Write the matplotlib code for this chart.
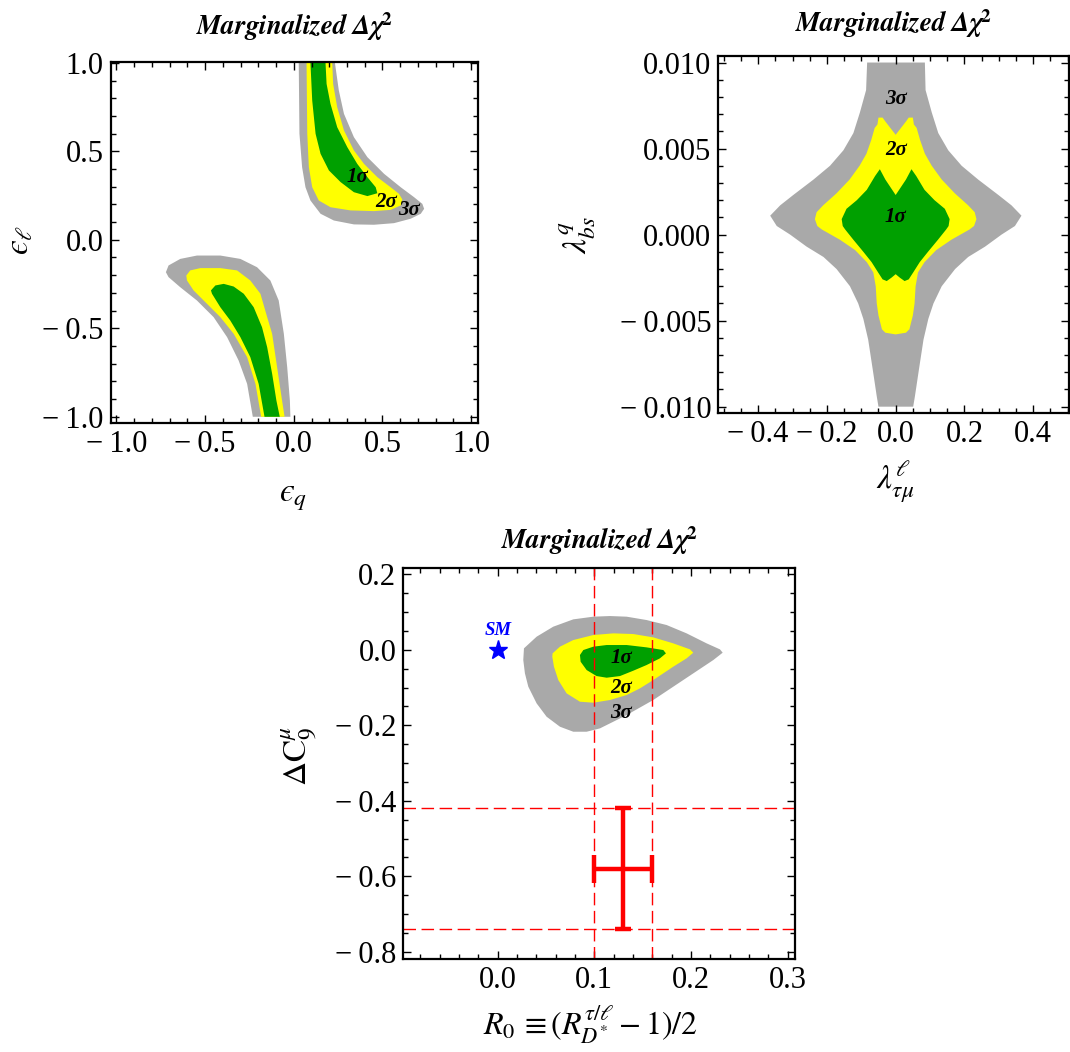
import matplotlib
matplotlib.use("Agg")
import matplotlib.pyplot as plt
from matplotlib.ticker import MultipleLocator, FuncFormatter
from matplotlib.mathtext import MathTextParser

plt.rcParams['font.family'] = ['Liberation Serif', 'DejaVu Serif']
plt.rcParams['mathtext.fontset'] = 'stix'

# ---------------- data: panel 1 (eps_q, eps_l) ----------------
p1_up_3s = [(0.028, 1.0), (0.032, 0.60), (0.047, 0.41), (0.066, 0.297), (0.094, 0.222), (0.151, 0.147),
            (0.226, 0.109), (0.339, 0.087), (0.452, 0.085), (0.565, 0.094), (0.659, 0.119), (0.716, 0.147),
            (0.735, 0.175), (0.725, 0.203), (0.678, 0.241), (0.603, 0.297), (0.509, 0.373), (0.415, 0.467),
            (0.339, 0.580), (0.283, 0.712), (0.254, 0.844), (0.232, 1.0)]
p1_up_2s = [(0.072, 1.0), (0.076, 0.60), (0.085, 0.41), (0.104, 0.297), (0.141, 0.222), (0.207, 0.184),
            (0.320, 0.166), (0.452, 0.162), (0.546, 0.169), (0.603, 0.194), (0.612, 0.228), (0.593, 0.260),
            (0.546, 0.297), (0.471, 0.354), (0.396, 0.429), (0.339, 0.505), (0.283, 0.618), (0.245, 0.749),
            (0.222, 0.881), (0.217, 1.0)]
p1_up_1s = [(0.094, 1.0), (0.104, 0.787), (0.123, 0.599), (0.151, 0.486), (0.198, 0.392), (0.264, 0.326),
            (0.339, 0.269), (0.415, 0.247), (0.471, 0.263), (0.462, 0.297), (0.415, 0.354), (0.358, 0.429),
            (0.302, 0.523), (0.245, 0.636), (0.207, 0.768), (0.185, 0.881), (0.179, 1.0)]
p1_lo_3s = [(-0.231, -1.0), (-0.263, -0.814), (-0.311, -0.682), (-0.376, -0.550), (-0.452, -0.437),
            (-0.546, -0.343), (-0.640, -0.268), (-0.706, -0.211), (-0.721, -0.183), (-0.706, -0.145),
            (-0.640, -0.108), (-0.546, -0.089), (-0.414, -0.089), (-0.301, -0.108), (-0.207, -0.155),
            (-0.132, -0.230), (-0.085, -0.343), (-0.056, -0.531), (-0.037, -0.720), (-0.022, -0.908),
            (-0.019, -1.0)]
p1_lo_2s = [(-0.184, -1.0), (-0.216, -0.814), (-0.263, -0.663), (-0.339, -0.531), (-0.414, -0.437),
            (-0.489, -0.362), (-0.565, -0.286), (-0.602, -0.230), (-0.606, -0.202), (-0.584, -0.173),
            (-0.527, -0.160), (-0.414, -0.160), (-0.320, -0.173), (-0.245, -0.230), (-0.188, -0.305),
            (-0.150, -0.437), (-0.122, -0.531), (-0.094, -0.720), (-0.066, -0.908), (-0.052, -1.0)]
p1_lo_1s = [(-0.165, -1.0), (-0.198, -0.814), (-0.245, -0.663), (-0.301, -0.550), (-0.358, -0.456),
            (-0.414, -0.381), (-0.461, -0.305), (-0.467, -0.286), (-0.442, -0.258), (-0.395, -0.249),
            (-0.339, -0.264), (-0.282, -0.305), (-0.226, -0.381), (-0.179, -0.494), (-0.150, -0.607),
            (-0.122, -0.757), (-0.098, -0.908), (-0.079, -1.0)]
p1_labels = [("1σ", 0.358, 0.354), ("2σ", 0.518, 0.212), ("3σ", 0.650, 0.166)]

# ---------------- data: panel 2 (lambda_taumu, lambda_bs) ----------------
p2_3s = [(-0.083, 0.0100), (-0.086, 0.0084), (-0.104, 0.0071), (-0.123, 0.0059), (-0.152, 0.0049),
         (-0.191, 0.0040), (-0.239, 0.0032), (-0.298, 0.0023), (-0.336, 0.0017), (-0.365, 0.0011),
         (-0.346, 0.0005), (-0.307, 0.0000), (-0.259, -0.0007), (-0.210, -0.0013), (-0.172, -0.0020),
         (-0.133, -0.0030), (-0.109, -0.0040), (-0.094, -0.0049), (-0.080, -0.0061), (-0.067, -0.0078),
         (-0.055, -0.0094), (-0.050, -0.0100),
         (0.051, -0.0100), (0.056, -0.0094), (0.068, -0.0078), (0.081, -0.0061), (0.095, -0.0049),
         (0.110, -0.0040), (0.134, -0.0030), (0.173, -0.0020), (0.211, -0.0013), (0.260, -0.0007),
         (0.308, 0.0000), (0.347, 0.0005), (0.366, 0.0011), (0.337, 0.0017), (0.299, 0.0023),
         (0.240, 0.0032), (0.192, 0.0040), (0.153, 0.0049), (0.124, 0.0059), (0.105, 0.0071),
         (0.087, 0.0084), (0.085, 0.0100)]
p2_2s = [(-0.050, 0.0068), (-0.038, 0.0068), (-0.031, 0.0066), (0.0, 0.0058), (0.031, 0.0066),
         (0.038, 0.0068), (0.050, 0.0068), (0.053, 0.0064), (0.061, 0.0062), (0.071, 0.0055),
         (0.085, 0.0047), (0.105, 0.0040), (0.134, 0.0032), (0.172, 0.0024), (0.211, 0.0017),
         (0.230, 0.0013), (0.235, 0.0009), (0.228, 0.0005), (0.215, 0.0003), (0.162, -0.0003),
         (0.118, -0.0009), (0.084, -0.0016), (0.065, -0.0022), (0.058, -0.0030), (0.055, -0.0040),
         (0.050, -0.0047), (0.045, -0.0051), (0.040, -0.0055), (0.030, -0.0057), (0.0, -0.0058),
         (-0.030, -0.0057), (-0.040, -0.0055), (-0.045, -0.0051), (-0.050, -0.0047), (-0.055, -0.0040),
         (-0.058, -0.0030), (-0.065, -0.0022), (-0.084, -0.0016), (-0.118, -0.0009), (-0.162, -0.0003),
         (-0.215, 0.0003), (-0.228, 0.0005), (-0.235, 0.0009), (-0.230, 0.0013), (-0.211, 0.0017),
         (-0.172, 0.0024), (-0.134, 0.0032), (-0.105, 0.0040), (-0.085, 0.0047), (-0.071, 0.0055),
         (-0.061, 0.0062), (-0.053, 0.0064)]
p2_1s = [(-0.046, 0.0038), (-0.030, 0.0032), (0.0, 0.0023), (0.030, 0.0032), (0.046, 0.0038),
         (0.060, 0.0034), (0.084, 0.0026), (0.113, 0.0020), (0.143, 0.0015), (0.157, 0.0009),
         (0.154, 0.0005), (0.147, 0.0003), (0.123, -0.0003), (0.094, -0.0010), (0.070, -0.0016),
         (0.051, -0.0022), (0.038, -0.0026), (0.026, -0.0027), (0.012, -0.0025), (0.0, -0.0023),
         (-0.012, -0.0025), (-0.026, -0.0027), (-0.038, -0.0026), (-0.051, -0.0022), (-0.070, -0.0016),
         (-0.094, -0.0010), (-0.123, -0.0003), (-0.147, 0.0003), (-0.154, 0.0005), (-0.157, 0.0009),
         (-0.143, 0.0015), (-0.113, 0.0020), (-0.084, 0.0026), (-0.060, 0.0034)]
p2_labels = [("3σ", 0.0, 0.0079), ("2σ", 0.0, 0.0049), ("1σ", 0.0, 0.0010)]

# ---------------- data: panel 3 (R0, dC9) ----------------
p3_3s = [(0.0272, 0.0039), (0.0403, 0.0348), (0.0575, 0.0613), (0.0782, 0.0807), (0.0989, 0.0878),
         (0.1161, 0.0895), (0.1334, 0.0878), (0.1540, 0.0789), (0.1747, 0.0657), (0.1954, 0.0436),
         (0.2161, 0.0171), (0.2299, 0.0012), (0.2327, -0.0076), (0.2230, -0.0271), (0.2023, -0.0624),
         (0.1816, -0.0977), (0.1609, -0.1330), (0.1334, -0.1728), (0.1196, -0.1905), (0.1058, -0.2081),
         (0.0920, -0.2170), (0.0782, -0.2170), (0.0644, -0.2037), (0.0506, -0.1772), (0.0403, -0.1419),
         (0.0317, -0.0977), (0.0282, -0.0624), (0.0265, -0.0271)]
p3_2s = [(0.0568, -0.0094), (0.0644, 0.0083), (0.0782, 0.0259), (0.0989, 0.0392), (0.1196, 0.0436),
         (0.1403, 0.0418), (0.1609, 0.0330), (0.1816, 0.0171), (0.1989, 0.0012), (0.2023, -0.0076),
         (0.1954, -0.0226), (0.1816, -0.0447), (0.1609, -0.0801), (0.1472, -0.1021), (0.1334, -0.1198),
         (0.1161, -0.1330), (0.0989, -0.1401), (0.0851, -0.1375), (0.0713, -0.1154), (0.0627, -0.0801),
         (0.0582, -0.0447), (0.0565, -0.0182)]
p3_1s = [(0.0851, -0.0138), (0.0886, -0.0006), (0.0989, 0.0083), (0.1127, 0.0127), (0.1334, 0.0127),
         (0.1540, 0.0065), (0.1713, -0.0006), (0.1740, -0.0094), (0.1678, -0.0226), (0.1540, -0.0403),
         (0.1403, -0.0553), (0.1265, -0.0695), (0.1127, -0.0739), (0.1023, -0.0695), (0.0920, -0.0536),
         (0.0858, -0.0315)]
p3_labels = [("1σ", 0.128, -0.023), ("2σ", 0.128, -0.102), ("3σ", 0.128, -0.168)]
sm_point = (0.0, 0.0)
meas_x, meas_y = 0.13, -0.58
meas_xerr, meas_yerr = 0.03, 0.16
vlines = [0.10, 0.16]
hlines = [-0.42, -0.74]

C3, C2, C1 = '#A9A9A9', '#FFFF00', '#00A000'

TITLE = r'$\mathbfit{Marginalized}\ \mathbfit{\Delta\chi}^{\mathbf{2}}$'
try:
    MathTextParser('path').parse(TITLE)
    title_kw = {}
except Exception:
    TITLE = 'Marginalized Δχ²'
    title_kw = dict(fontweight='bold', fontstyle='italic')

fig = plt.figure(figsize=(10.70, 10.52), dpi=100)
ax1 = fig.add_axes([0.1035, 0.5976, 0.3436, 0.3437])
ax2 = fig.add_axes([0.6713, 0.6077, 0.3280, 0.3394])
ax3 = fig.add_axes([0.3769, 0.0881, 0.3661, 0.3717])


def fill(ax, pts, c):
    xs = [p[0] for p in pts]
    ys = [p[1] for p in pts]
    ax.fill(xs, ys, color=c, lw=0, zorder=1)


def fmt(dec):
    def f(v, pos):
        s = f"{abs(v):.{dec}f}"
        if v < 0 and float(s) != 0:
            s = '\u2212\u2009' + s
        return s
    return FuncFormatter(f)


def style(ax, xmaj, xmin, ymaj, ymin, xdec, ydec, title_y):
    ax.xaxis.set_major_locator(MultipleLocator(xmaj))
    ax.xaxis.set_minor_locator(MultipleLocator(xmin))
    ax.yaxis.set_major_locator(MultipleLocator(ymaj))
    ax.yaxis.set_minor_locator(MultipleLocator(ymin))
    ax.xaxis.set_major_formatter(fmt(xdec))
    ax.yaxis.set_major_formatter(fmt(ydec))
    ax.tick_params(which='both', direction='in', top=True, right=True, labelsize=22, width=1.0)
    ax.tick_params(which='major', length=6, pad=5)
    ax.tick_params(which='minor', length=3.5)
    for s in ax.spines.values():
        s.set_linewidth(1.6)
    ax.text(0.5, title_y, TITLE, transform=ax.transAxes, fontsize=19.5, ha='center', va='center', **title_kw)


SIG_KW = dict(fontsize=15, fontstyle='italic', fontweight='bold', ha='center', va='center', zorder=3)

# panel 1
for pts, c in [(p1_up_3s, C3), (p1_up_2s, C2), (p1_up_1s, C1), (p1_lo_3s, C3), (p1_lo_2s, C2), (p1_lo_1s, C1)]:
    fill(ax1, pts, c)
for t, x, y in p1_labels:
    ax1.text(x, y, t, **SIG_KW)
ax1.set_xlim(-1.032, 1.041)
ax1.set_ylim(-1.037, 1.006)
style(ax1, 0.5, 0.1, 0.5, 0.1, 1, 1, 1.096)
ax1.set_xlabel('$\u03f5_q$', fontsize=24, va='center')
ax1.set_ylabel('$\u03f5_\\ell$', fontsize=24, va='center')
ax1.xaxis.set_label_coords(0.496, -0.207)
ax1.yaxis.set_label_coords(-0.247, 0.507)

# panel 2
for pts, c in [(p2_3s, C3), (p2_2s, C2), (p2_1s, C1)]:
    fill(ax2, pts, c)
for t, x, y in p2_labels:
    ax2.text(x, y, t, **SIG_KW)
ax2.set_xlim(-0.516, 0.505)
ax2.set_ylim(-0.01035, 0.0104)
style(ax2, 0.2, 0.05, 0.005, 0.001, 1, 3, 1.09)
ax2.set_xlabel(r'$\lambda^{\ell}_{\tau\mu}$', fontsize=24, va='center')
ax2.set_ylabel(r'$\lambda^{q}_{bs}$', fontsize=24, va='center')
ax2.xaxis.set_label_coords(0.503, -0.194)
ax2.yaxis.set_label_coords(-0.40, 0.498)

# panel 3
for pts, c in [(p3_3s, C3), (p3_2s, C2), (p3_1s, C1)]:
    fill(ax3, pts, c)
for t, x, y in p3_labels:
    ax3.text(x, y, t, **SIG_KW)
for v in vlines:
    ax3.axvline(v, color='red', lw=1.0, ls=(0, (9, 4)), zorder=2)
for h in hlines:
    ax3.axhline(h, color='red', lw=1.0, ls=(0, (9, 4)), zorder=2)
ax3.errorbar(meas_x, meas_y, xerr=meas_xerr, fmt='none', ecolor='red', elinewidth=3.2, capsize=10, capthick=3.2, zorder=4)
ax3.errorbar(meas_x, meas_y, yerr=meas_yerr, fmt='none', ecolor='red', elinewidth=3.2, capsize=6, capthick=3.2, zorder=4)
ax3.plot(sm_point[0], sm_point[1], marker='*', color='blue', ms=14, ls='none', zorder=4)
ax3.text(sm_point[0], sm_point[1] + 0.05, 'SM', color='blue', fontsize=13.5, fontweight='bold', fontstyle='italic',
         ha='center', va='center')
ax3.set_xlim(-0.0976, 0.3075)
ax3.set_ylim(-0.82, 0.216)
style(ax3, 0.1, 0.02, 0.2, 0.05, 1, 1, 1.072)
ax3.set_xlabel(r'$R_{\mathit{0}}\,\equiv(R^{\tau/\ell}_{D^{*}}-\mathit{1})/\mathit{2}$', fontsize=23, va='center')
ax3.set_ylabel(r'$\Delta\mathrm{C}^{\mu}_{9}$', fontsize=24, va='center')
ax3.xaxis.set_label_coords(0.477, -0.168)
ax3.yaxis.set_label_coords(-0.264, 0.52)

fig.savefig('out.png', dpi=100)
